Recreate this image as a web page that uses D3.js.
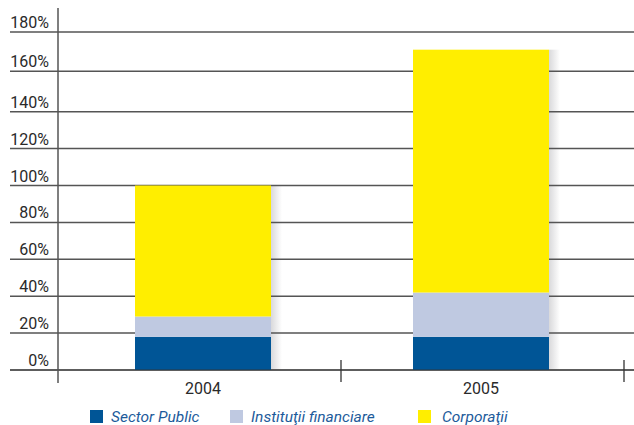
<!DOCTYPE html>
<html>
<head>
<meta charset="utf-8">
<script src="https://cdn.jsdelivr.net/npm/d3@7"></script>
<style>
  html, body { margin: 0; padding: 0; background: #fff; }
  svg { display: block; }
  text { font-family: Roboto, "Open Sans", sans-serif; }
</style>
</head>
<body>
<svg id="chart" width="634" height="425"></svg>
<script>
// Structure of financing by sector, percent
const years = ["2004", "2005"];
const seriesNames = ["Sector Public", "Instituţii financiare", "Corporaţii"];
const sectorPublic = [18, 18];
const institutiiFinanciare = [11, 24];
const corporatii = [71, 129];
const yTicks = [0, 20, 40, 60, 80, 100, 120, 140, 160, 180];
const colors = ["#005596", "#bfc9e1", "#ffee00"];

const svg = d3.select("#chart");

const rows = years.map((yr, i) => ({
  year: yr,
  "Sector Public": sectorPublic[i],
  "Instituţii financiare": institutiiFinanciare[i],
  "Corporaţii": corporatii[i]
}));
const stacked = d3.stack().keys(seriesNames)(rows);
const totals = rows.map(r => d3.sum(seriesNames, k => r[k]));

// the upper two bands of the value axis are drawn slightly taller
const y = d3.scaleLinear().domain([0, 140, 160, 180]).range([370, 111.7, 71.3, 32]);
const x = d3.scaleBand().domain(years).range([64, 620])
  .paddingInner(1 - 136 / 278).paddingOuter((1 - 136 / 278) / 2);
const xTicks = d3.scaleBand().domain(years).range([58, 624]);

// drop shadow gradient to the right of each column
const defs = svg.append("defs");
const grad = defs.append("linearGradient").attr("id", "shade")
  .attr("x1", "0").attr("x2", "1").attr("y1", "0").attr("y2", "0");
grad.append("stop").attr("offset", "0").attr("stop-color", "#d9d9db");
grad.append("stop").attr("offset", "1").attr("stop-color", "#ffffff");

svg.append("g").selectAll("rect").data(rows).join("rect")
  .attr("x", d => x(d.year) + x.bandwidth())
  .attr("y", (d, i) => y(totals[i]))
  .attr("width", 11)
  .attr("height", (d, i) => y(0) - y(totals[i]))
  .attr("fill", "url(#shade)");

// horizontal grid lines
svg.append("g").selectAll("line").data(yTicks).join("line")
  .attr("x1", 10).attr("x2", 634)
  .attr("y1", d => y(d)).attr("y2", d => y(d))
  .attr("stroke", "#555").attr("stroke-width", 1.5);

// stacked columns
svg.append("g").selectAll("g").data(stacked).join("g")
  .attr("fill", (d, i) => colors[i])
  .selectAll("rect").data(d => d).join("rect")
  .attr("x", d => x(d.data.year))
  .attr("y", d => y(d[1]))
  .attr("width", x.bandwidth())
  .attr("height", d => y(d[0]) - y(d[1]));

// baseline over the columns
svg.append("line")
  .attr("x1", 10).attr("x2", 634)
  .attr("y1", y(0)).attr("y2", y(0))
  .attr("stroke", "#333").attr("stroke-opacity", 0.6).attr("stroke-width", 1.5);

// vertical axis line
svg.append("line")
  .attr("x1", 58).attr("x2", 58).attr("y1", 8).attr("y2", 383)
  .attr("stroke", "#555").attr("stroke-width", 1.5);

// category separators on the base axis
const sepX = years.map(yr => xTicks(yr) + xTicks.bandwidth());
svg.append("g").selectAll("line").data(sepX).join("line")
  .attr("x1", d => d).attr("x2", d => d)
  .attr("y1", 360).attr("y2", 382)
  .attr("stroke", "#333").attr("stroke-width", 1.3);

// y tick labels, sitting above their grid line
svg.append("g").selectAll("text").data(yTicks).join("text")
  .attr("x", 49).attr("y", d => y(d) - 4)
  .attr("text-anchor", "end")
  .attr("font-size", 16).attr("fill", "#2a2a2a")
  .text(d => d + "%");

// year labels
svg.append("g").selectAll("text").data(years).join("text")
  .attr("x", d => x(d) + x.bandwidth() / 2).attr("y", 394)
  .attr("text-anchor", "middle")
  .attr("font-size", 16).attr("fill", "#2a2a2a")
  .text(d => d);

// legend
const legendX = [90, 230, 418];
const legend = svg.append("g").selectAll("g").data(seriesNames).join("g")
  .attr("transform", (d, i) => `translate(${legendX[i]},410)`);
legend.append("rect").attr("width", 13).attr("height", 13)
  .attr("fill", (d, i) => colors[i]);
legend.append("text").attr("x", (d, i) => i === 2 ? 24 : 21).attr("y", 12)
  .attr("font-size", 15.5).attr("font-style", "italic").attr("fill", "#1d5b9b")
  .text(d => d);
</script>
</body>
</html>
